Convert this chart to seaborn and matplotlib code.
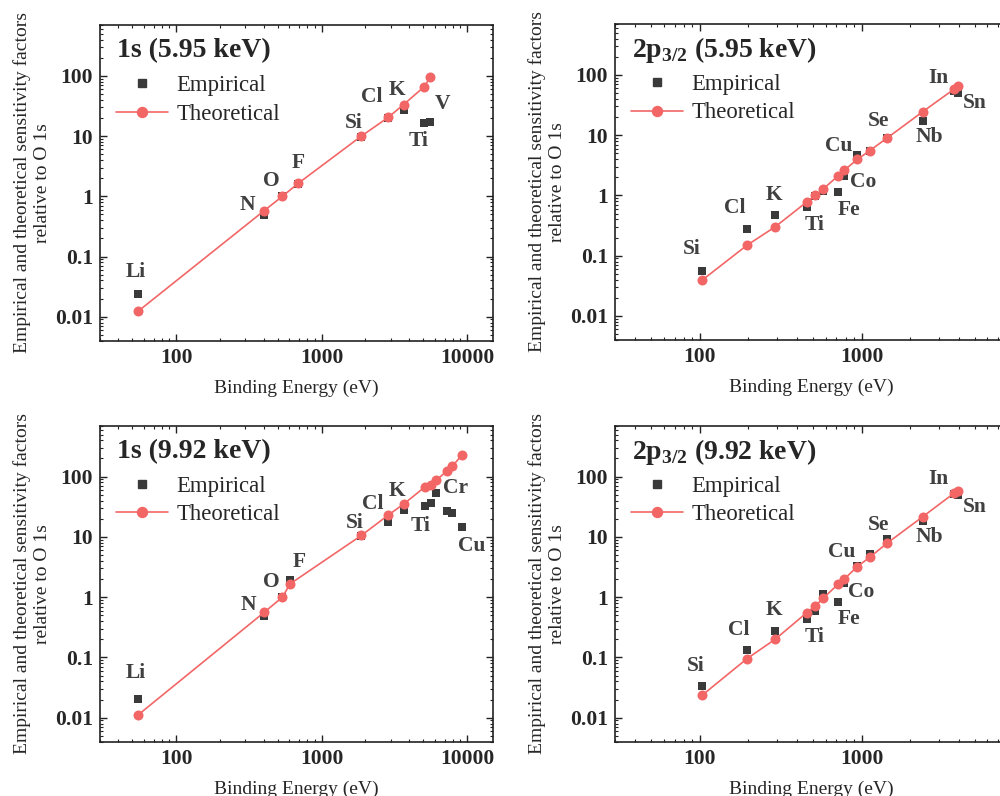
import matplotlib
matplotlib.use("Agg")
import matplotlib.pyplot as plt
import matplotlib.ticker as mticker
from matplotlib.transforms import offset_copy
from matplotlib.lines import Line2D
import seaborn as sns
import pandas as pd

# ---------------- data ----------------
# 1s, 5.95 keV
el_1s_a = ["Li", "N", "O", "F", "Si", "Cl", "K", "Ti", "V"]
be_1s_a = [55, 403, 538, 693, 1866, 2865, 3660, 5030, 5590]
theo_1s_a = [0.0124, 0.577, 1.0, 1.65, 9.9, 20.4, 33.3, 65, 94]
emp_1s_a = [0.024, 0.49, 1.0, 1.6, 9.8, 20.0, 27.2, 16.4, 17.2]

# 1s, 9.92 keV
el_1s_b = ["Li", "N", "O", "F", "Si", "Cl", "K", "Ti", "V", "Cr", "Fe", "Co", "Cu"]
be_1s_b = [55, 403, 538, 607, 1880, 2865, 3690, 5100, 5610, 6140, 7310, 7920, 9270]
theo_1s_b = [0.0112, 0.56, 1.0, 1.66, 10.6, 22.9, 35.5, 66.7, 72.8, 87, 126, 149, 232]
emp_1s_b = [0.0204, 0.48, 1.0, 1.95, 10.4, 17.5, 28, 33, 37, 53, 27, 24.7, 14.5]

# 2p3/2 (same elements for both energies)
el_2p = ["Si", "Cl", "K", "Ti", "V", "Cr", "Fe", "Co", "Cu", "Ga", "Se", "Nb", "In", "Sn"]
be_2p = [104, 196, 294, 459, 519, 580, 716, 780, 940, 1125, 1442, 2393, 3724, 3945]
theo_2p_a = [0.0396, 0.149, 0.304, 0.78, 1.0, 1.28, 2.11, 2.6, 3.95, 5.55, 9.0, 24.6, 57.8, 65.6]
emp_2p_a = [0.0565, 0.274, 0.469, 0.64, 0.98, 1.17, 1.16, 2.1, 4.65, 5.5, 9.1, 17.5, 55, 49.6]
theo_2p_b = [0.0238, 0.0953, 0.202, 0.553, 0.723, 0.96, 1.64, 1.98, 3.2, 4.6, 7.9, 21.7, 53, 58.6]
emp_2p_b = [0.034, 0.131, 0.274, 0.44, 0.59, 1.12, 0.83, 1.69, 3.29, 5.2, 9.12, 18.6, 51, 49.6]

titles = ["1s (5.95 keV)", "2p$_{\\mathbf{3/2}}$ (5.95 keV)",
          "1s (9.92 keV)", "2p$_{\\mathbf{3/2}}$ (9.92 keV)"]
xticks = [100, 1000, 10000]
xtick_labels = ["100", "1000", "10000"]
yticks = [0.01, 0.1, 1, 10, 100]
ytick_labels = ["0.01", "0.1", "1", "10", "100"]

# element label offsets (points) from the empirical point
lab_1s_a = {"Li": (-2, 16), "N": (-12, 7), "O": (-8, 11), "F": (0, 15),
            "Si": (-5, 10), "Cl": (-12, 15), "K": (-5, 14), "Ti": (-4, -13),
            "V": (9, 13)}
lab_1s_b = {"Li": (-2, 19), "N": (-11.5, 8), "O": (-8, 11), "F": (6.5, 13),
            "Si": (-5, 9), "Cl": (-11, 13), "K": (-5, 14), "Ti": (-2.5, -15),
            "Cr": (14, 4), "Cu": (7, -13.5)}
lab_2p_a = {"Si": (-7.5, 15.5), "Cl": (-9, 15), "K": (-0.7, 14.5), "Ti": (5.5, -13),
            "Fe": (8, -13), "Co": (14, -4), "Cu": (-13, 6.5), "Se": (-6, 12),
            "Nb": (5, -12), "In": (-11.5, 9), "Sn": (12, -7)}
lab_2p_b = {"Si": (-5, 14), "Cl": (-6, 14.5), "K": (-1, 15.5), "Ti": (5.5, -13.5),
            "Fe": (8, -12.5), "Co": (12.5, -6.5), "Cu": (-11, 10), "Se": (-6, 10),
            "Nb": (5, -11.5), "In": (-11.5, 11), "Sn": (12, -8.5)}

RED = "#F26666"
GRAY = "#3a3a3a"
LABEL_GRAY = "#404040"

sns.set_theme(style="ticks")
plt.rcParams["font.family"] = ["Liberation Serif", "DejaVu Serif"]
plt.rcParams["mathtext.fontset"] = "custom"
plt.rcParams["mathtext.rm"] = "Liberation Serif"
plt.rcParams["mathtext.bf"] = "Liberation Serif:bold"

fig = plt.figure(figsize=(10, 7.96), dpi=100)


def draw_panel(ax, elements, be, emp, theo, labels, title, xmax):
    df = pd.DataFrame({"element": elements, "be": be, "emp": emp, "theo": theo})

    sns.scatterplot(data=df, x="be", y="emp", ax=ax, marker="s", s=40,
                    color=GRAY, linewidth=0, zorder=2, legend=False)
    sns.lineplot(data=df, x="be", y="theo", ax=ax, color=RED, lw=1.2,
                 marker="o", markersize=7.2, markeredgewidth=0, zorder=3,
                 legend=False)

    ax.set_xscale("log")
    ax.set_yscale("log")
    ax.set_xticks(xticks, labels=xtick_labels, fontsize=15.5, fontweight="bold")
    ax.set_yticks(yticks, labels=ytick_labels, fontsize=15.5, fontweight="bold")
    # limits after the ticks, set_ticks would widen them
    ax.set_xlim(30, xmax)
    ax.set_ylim(0.004, 700)
    ax.xaxis.set_minor_locator(mticker.LogLocator(base=10, subs=range(2, 10)))
    ax.yaxis.set_minor_locator(mticker.LogLocator(base=10, subs=range(2, 10)))
    ax.xaxis.set_minor_formatter(mticker.NullFormatter())
    ax.yaxis.set_minor_formatter(mticker.NullFormatter())
    ax.tick_params(which="both", direction="in", top=True, right=True,
                   color="#222222")
    ax.tick_params(which="major", length=5, width=1)
    ax.tick_params(which="minor", length=2.5, width=0.8)
    ax.tick_params(axis="x", pad=5)
    ax.tick_params(axis="y", pad=5)
    for sp in ax.spines.values():
        sp.set_linewidth(1.2)
        sp.set_color("#222222")

    ax.set_xlabel("Binding Energy (eV)", fontsize=14)
    ax.set_ylabel("Empirical and theoretical sensitivity factors\nrelative to O 1s",
                  fontsize=14, linespacing=1.25)
    w_px = ax.get_position().width * fig.bbox.width
    h_px = ax.get_position().height * fig.bbox.height
    ax.yaxis.set_label_coords(-49 / w_px, 0.5)
    ax.xaxis.set_label_coords(0.5, -39 / h_px)

    for name, (dx, dy) in labels.items():
        row = df[df["element"] == name].iloc[0]
        ax.annotate(name, (row["be"], row["emp"]), xytext=(dx, dy),
                    textcoords="offset points", ha="center", va="center",
                    fontsize=15.5, fontweight="bold", color=LABEL_GRAY)

    ax.text(0, 1, title, transform=offset_copy(ax.transAxes, fig=fig, x=17, y=-26, units="dots"),
            ha="left", va="center", fontsize=20, fontweight="bold")

    handles = [
        Line2D([], [], ls="none", marker="s", color=GRAY, markersize=6.3),
        Line2D([], [], color=RED, marker="o", markersize=7.2, lw=1.2),
    ]
    ax.legend(handles, ["Empirical", "Theoretical"], loc="upper left",
              bbox_to_anchor=(0, 1),
              bbox_transform=offset_copy(ax.transAxes, fig=fig, x=16, y=-50, units="dots"),
              frameon=False, fontsize=16.4, handlelength=2.3, handletextpad=0.35,
              borderpad=0, borderaxespad=0, labelspacing=0.33)


ax_tl = fig.add_axes([0.100, 0.572, 0.3927, 0.3966])
ax_tr = fig.add_axes([0.615, 0.5729, 0.3927, 0.397])
ax_bl = fig.add_axes([0.100, 0.0682, 0.3927, 0.397])
ax_br = fig.add_axes([0.615, 0.0682, 0.3927, 0.397])

draw_panel(ax_tl, el_1s_a, be_1s_a, emp_1s_a, theo_1s_a, lab_1s_a, titles[0], 15000)
draw_panel(ax_tr, el_2p, be_2p, emp_2p_a, theo_2p_a, lab_2p_a, titles[1], 8000)
draw_panel(ax_bl, el_1s_b, be_1s_b, emp_1s_b, theo_1s_b, lab_1s_b, titles[2], 15000)
draw_panel(ax_br, el_2p, be_2p, emp_2p_b, theo_2p_b, lab_2p_b, titles[3], 8000)

fig.savefig("out.png", dpi=100)
